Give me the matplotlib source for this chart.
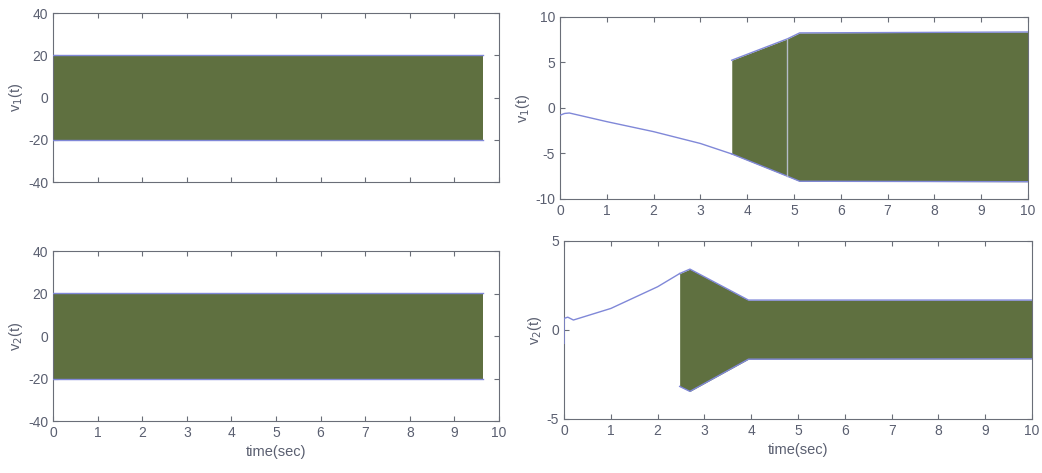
import matplotlib
matplotlib.use("Agg")
import matplotlib.pyplot as plt
import numpy as np

plt.rcParams['font.family'] = ['Liberation Sans', 'DejaVu Sans']
plt.rcParams['axes.unicode_minus'] = False

# ---- data ----
# Left column: constant-amplitude oscillation envelope
left_t = [0.0, 9.63]
left_v1_upper = [20.3, 20.3]
left_v1_lower = [-20.0, -20.0]
left_v2_upper = [20.3, 20.3]
left_v2_lower = [-20.0, -20.0]

# Right top: v1(t) smooth part then oscillation envelope
r1_line_t = [0.0, 0.1, 0.2, 1.0, 2.0, 3.0, 3.67]
r1_line_v = [-0.8, -0.6, -0.55, -1.5, -2.6, -3.9, -5.05]
r1_band_t = [3.67, 4.86, 5.12, 10.0]
r1_band_upper = [5.25, 7.6, 8.25, 8.35]
r1_band_lower = [-5.05, -7.5, -8.05, -8.1]
r1_gap_t = 4.86

# Right bottom: v2(t) smooth part then oscillation envelope
r2_line_t = [0.0, 0.0, 0.08, 0.2, 1.0, 2.0, 2.47]
r2_line_v = [-0.75, 0.65, 0.72, 0.56, 1.21, 2.43, 3.17]
r2_band_t = [2.47, 2.69, 3.94, 10.0]
r2_band_upper = [3.17, 3.42, 1.68, 1.68]
r2_band_lower = [-3.17, -3.45, -1.64, -1.62]

fill_c = '#5f7040'
edge_c = '#8088d8'
axis_c = '#6a6e78'
text_c = '#5a5f70'

fig = plt.figure(figsize=(10.42, 4.73), dpi=100)
fig.patch.set_facecolor('white')

ax_tl = fig.add_axes([0.0509, 0.6152, 0.428, 0.3573])
ax_tr = fig.add_axes([0.5374, 0.5793, 0.4492, 0.3848])
ax_bl = fig.add_axes([0.0509, 0.1099, 0.428, 0.3594])
ax_br = fig.add_axes([0.5413, 0.1142, 0.4492, 0.3763])


def style(ax, ylim, yticks, show_xlabels):
    ax.set_xlim(0, 10)
    ax.set_ylim(*ylim)
    ax.set_xticks(range(0, 11))
    ax.set_yticks(yticks)
    ax.tick_params(direction='in', top=True, right=True, length=3.5,
                   width=0.8, color=axis_c, labelcolor=text_c, labelsize=10)
    if not show_xlabels:
        ax.set_xticklabels([])
    for s in ax.spines.values():
        s.set_color(axis_c)
        s.set_linewidth(0.8)


def band(ax, t, up, lo):
    ax.fill_between(t, lo, up, color=fill_c, linewidth=0, zorder=2)
    ax.plot(t, up, color=edge_c, lw=1.0, zorder=3)
    ax.plot(t, lo, color=edge_c, lw=1.0, zorder=3)


# top-left
band(ax_tl, left_t, left_v1_upper, left_v1_lower)
style(ax_tl, (-40, 40), [-40, -20, 0, 20, 40], False)
ax_tl.set_ylabel(r'v$_1$(t)', color=text_c, fontsize=10.5, labelpad=2)

# bottom-left
band(ax_bl, left_t, left_v2_upper, left_v2_lower)
style(ax_bl, (-40, 40), [-40, -20, 0, 20, 40], True)
ax_bl.set_ylabel(r'v$_2$(t)', color=text_c, fontsize=10.5, labelpad=2)
ax_bl.set_xlabel('time(sec)', color=text_c, fontsize=10.5, labelpad=4)

# top-right
ax_tr.plot(r1_line_t, r1_line_v, color=edge_c, lw=1.0, zorder=3)
band(ax_tr, r1_band_t, r1_band_upper, r1_band_lower)
ax_tr.axvline(r1_gap_t, color='#b4bcc8', lw=1.0, zorder=4,
              ymin=(np.interp(r1_gap_t, r1_band_t, r1_band_lower) + 10) / 20,
              ymax=(np.interp(r1_gap_t, r1_band_t, r1_band_upper) + 10) / 20)
style(ax_tr, (-10, 10), [-10, -5, 0, 5, 10], True)
ax_tr.set_ylabel(r'v$_1$(t)', color=text_c, fontsize=10.5, labelpad=2)

# bottom-right
ax_br.plot(r2_line_t, r2_line_v, color=edge_c, lw=1.0, zorder=3)
band(ax_br, r2_band_t, r2_band_upper, r2_band_lower)
style(ax_br, (-5, 5), [-5, 0, 5], True)
ax_br.set_ylabel(r'v$_2$(t)', color=text_c, fontsize=10.5, labelpad=2)
ax_br.set_xlabel('time(sec)', color=text_c, fontsize=10.5, labelpad=4)

fig.savefig('out.png', dpi=100)
